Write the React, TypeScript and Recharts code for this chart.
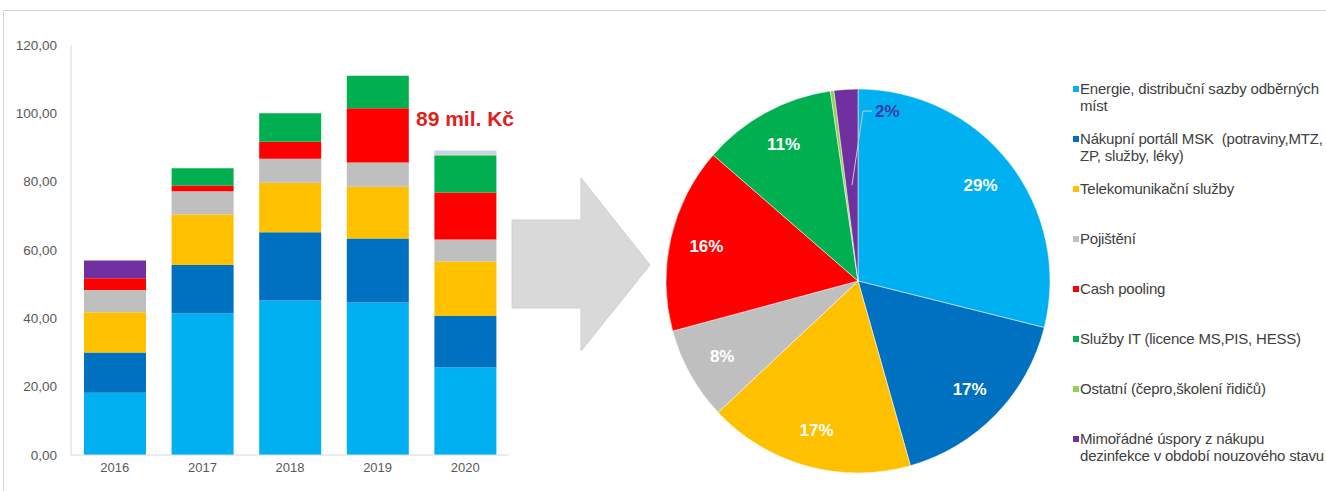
import { BarChart, Bar, XAxis, YAxis, PieChart, Pie, Cell } from 'recharts';

// stacked bars, bottom -> top, values in mil. Kč
const years = ['2016', '2017', '2018', '2019', '2020'];
const energie = [18.2, 41.5, 45.2, 44.6, 25.7];
const nakupni = [11.8, 14.1, 20.0, 18.8, 15.0];
const telekom = [11.8, 14.8, 14.5, 15.1, 15.9];
const pojisteni = [6.5, 6.8, 7.0, 7.1, 6.5];
const cashPooling = [3.4, 1.7, 5.0, 15.9, 13.7];
const sluzbyIT = [0, 5.0, 8.3, 9.5, 10.7];
const ostatni = [0, 0, 0, 0, 0.3];
const mimoradne = [5.2, 0, 0, 0, 1.3];

const yTicks = [0, 20, 40, 60, 80, 100, 120];

// pie = share of 2020 (percent)
const pieShares = [28.9, 16.7, 17.4, 7.8, 15.6, 11.3, 0.3, 2.0];

const seriesKeys = ['energie', 'nakupni', 'telekom', 'pojisteni', 'cash', 'it', 'ostatni', 'mimoradne'];
const seriesNames = [
  'Energie, distribuční sazby odběrných\nmíst',
  'Nákupní portáll MSK  (potraviny,MTZ,\nZP, služby, léky)',
  'Telekomunikační služby',
  'Pojištění',
  'Cash pooling',
  'Služby IT (licence MS,PIS, HESS)',
  'Ostatní (čepro,školení řidičů)',
  'Mimořádné úspory z nákupu\ndezinfekce v období nouzového stavu',
];
const colors = ['#00B0F0', '#0070C0', '#FFC000', '#BFBFBF', '#FF0000', '#00B050', '#92D050', '#7030A0'];
const topStrip2020 = '#c8d4ea';

const barData = years.map((year, i) => ({
  year,
  energie: energie[i],
  nakupni: nakupni[i],
  telekom: telekom[i],
  pojisteni: pojisteni[i],
  cash: cashPooling[i],
  it: sluzbyIT[i],
  ostatni: ostatni[i],
  mimoradne: mimoradne[i],
}));

const pieData = seriesNames.map((name, i) => ({ name, value: pieShares[i] }));

const FONT = '"Liberation Sans", Arial, sans-serif';
const RAD = Math.PI / 180;

const fmt = (v: number) => v.toFixed(2).replace('.', ',');

const PieLabel = (props: any) => {
  const { cx, cy, midAngle, outerRadius, index, value } = props;
  if (value < 1) return null;
  if (index === pieData.length - 1) {
    // small slice: leader line up into the blue slice
    const sx = cx + outerRadius * 0.5 * Math.cos(-midAngle * RAD);
    const sy = cy + outerRadius * 0.5 * Math.sin(-midAngle * RAD);
    const ex = cx + 5;
    const ey = cy - outerRadius * 0.885;
    return (
      <g>
        <polyline
          points={`${sx},${sy} ${ex},${ey} ${ex + 9},${ey}`}
          fill="none"
          stroke="#c9c9c9"
          strokeWidth={1}
        />
        <text x={ex + 12} y={ey} fill="#3b3aa6" fontSize={17} fontWeight="bold"
          fontFamily={FONT} dominantBaseline="central">
          {Math.round(value)}%
        </text>
      </g>
    );
  }
  const r = outerRadius * 0.81;
  const x = cx + r * Math.cos(-midAngle * RAD);
  const y = cy + r * Math.sin(-midAngle * RAD);
  return (
    <text x={x} y={y} fill="#fff" fontSize={17} fontWeight="bold" fontFamily={FONT}
      textAnchor="middle" dominantBaseline="central">
      {Math.round(value)}%
    </text>
  );
};

const App = () => {
  return (
    <div style={{ position: 'absolute', left: 0, top: 0, width: 1326, height: 491, overflow: 'hidden', background: '#fff', fontFamily: FONT }}>
      {/* frame */}
      <div style={{ position: 'absolute', left: 3, top: 10, right: -2, bottom: -2, borderTop: '1px solid #d6d6d6', borderLeft: '1px solid #d6d6d6' }} />

      <div style={{ position: 'absolute', left: 0, top: 0 }}>
        <BarChart width={520} height={491} data={barData} margin={{ top: 45, right: 11, bottom: 6, left: 0 }}>
          <XAxis
            dataKey="year"
            height={30}
            tickLine={false}
            axisLine={{ stroke: '#d9d9d9' }}
            tick={{ fontSize: 13, fill: '#595959', fontFamily: FONT }}
          />
          <YAxis
            width={71}
            domain={[0, 120]}
            ticks={yTicks}
            tickFormatter={fmt}
            tickLine={false}
            tickMargin={8}
            axisLine={{ stroke: '#d9d9d9' }}
            tick={{ fontSize: 13.5, fill: '#595959', fontFamily: FONT }}
          />
          {seriesKeys.map((key, i) => (
            <Bar key={key} dataKey={key} name={seriesNames[i]} stackId="a" fill={colors[i]}
              barSize={62} isAnimationActive={false}>
              {key === 'mimoradne' &&
                barData.map((d) => (
                  <Cell key={d.year} fill={d.year === '2020' ? topStrip2020 : colors[i]} />
                ))}
            </Bar>
          ))}
        </BarChart>
      </div>

      <div style={{ position: 'absolute', left: 416, top: 107, color: '#e0201c', fontSize: 21, fontWeight: 'bold', whiteSpace: 'nowrap' }}>
        89 mil. Kč
      </div>

      {/* arrow */}
      <svg style={{ position: 'absolute', left: 0, top: 0 }} width={700} height={491}>
        <polygon
          points="512,220 581,220 581,178 650,265 581,351 581,308 512,308"
          fill="#d9d9d9"
          stroke="#cfcfcf"
          strokeWidth={1}
        />
      </svg>

      <div style={{ position: 'absolute', left: 633, top: 0 }}>
        <PieChart width={440} height={491}>
          <Pie
            data={pieData}
            dataKey="value"
            nameKey="name"
            cx={220}
            cy={276}
            outerRadius={192}
            startAngle={90}
            endAngle={-270}
            stroke="#ffffff"
            strokeWidth={0.5}
            labelLine={false}
            label={PieLabel}
            isAnimationActive={false}
          >
            {pieData.map((d, i) => (
              <Cell key={d.name} fill={colors[i]} />
            ))}
          </Pie>
        </PieChart>
      </div>

      {/* legend */}
      <div style={{ position: 'absolute', left: 1073, top: 80, width: 290 }}>
        {seriesNames.map((name, i) => (
          <div key={name} style={{ height: 50, display: 'flex', alignItems: 'flex-start', fontSize: 15, lineHeight: '17px', color: '#404040' }}>
            <span style={{ display: 'inline-block', width: 6, height: 6, background: colors[i], marginTop: 6, marginRight: 1, flex: 'none' }} />
            <span style={{ whiteSpace: 'pre', letterSpacing: -0.2 }}>{name}</span>
          </div>
        ))}
      </div>
    </div>
  );
};

export default App;
